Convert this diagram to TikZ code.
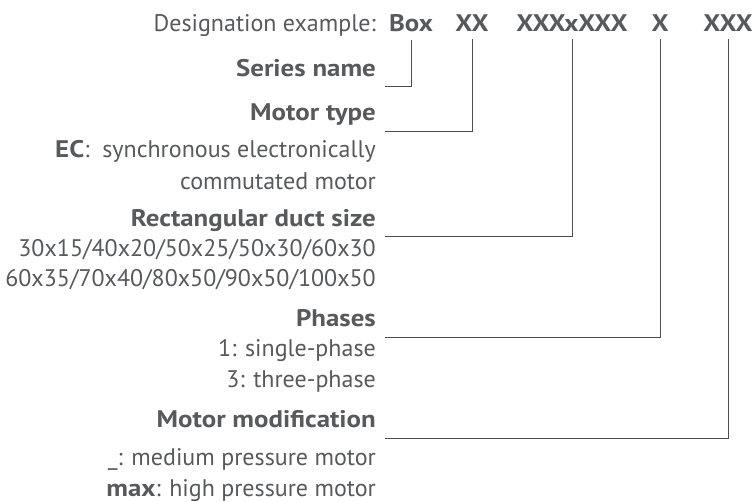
\documentclass[tikz,border=0pt]{standalone}
\usepackage{fontspec}
\setmainfont[BoldFeatures={FakeStretch=1.12}]{PT Sans}
\definecolor{txtgray}{HTML}{58595B}
\definecolor{linegray}{HTML}{4D4D4D}

\begin{document}
\begin{tikzpicture}[x=1pt,y=-1pt,
  every node/.style={text=txtgray,font=\fontsize{24}{28}\selectfont,inner sep=0pt},
  label/.style={anchor=base east},
  title/.style={anchor=base east,font=\fontsize{24}{28}\selectfont\bfseries},
  code/.style={anchor=base,font=\fontsize{24}{28}\selectfont\bfseries,inner ysep=7pt},
  leader/.style={draw=linegray,line width=0.9pt}]

\useasboundingbox (0,0) rectangle (755,502);

\coordinate (series) at (385,86);
\coordinate (motor) at (385,131);
\coordinate (duct) at (385,236);
\coordinate (phases) at (385,337);
\coordinate (modif) at (385,438);

\node [label] (head) at (376,32) {Designation example:};
\node [code] (box) at (411,32) {Box};
\node [code] (xx) at (472,32) {XX};
\node [code] (size) at (572,32) {XXXxXXX};
\node [code] (x) at (660,32) {X};
\node [code] (xxx) at (728,32) {XXX};

\draw [leader] (box.south) |- (series);
\draw [leader] (xx.south) |- (motor);
\draw [leader] (size.south) |- (duct);
\draw [leader] (x.south) |- (phases);
\draw [leader] (xxx.south) |- (modif);

\node [title] (sname) at (376,77) {Series name};
\node [title] (mtype) at (376,121) {Motor type};
\node [label] (ec1) at (376,158) {\textbf{EC}:\ \ synchronous electronically};
\node [label] (ec2) at (376,190) {commutated motor};
\node [title] (rdsize) at (376,227) {Rectangular duct size};
\node [label] (sizes1) at (376,257) {30x15/40x20/50x25/50x30/60x30};
\node [label] (sizes2) at (376,287) {60x35/70x40/80x50/90x50/100x50};
\node [title] (ph) at (376,327) {Phases};
\node [label] (ph1) at (376,357) {1: single-phase};
\node [label] (ph3) at (376,388) {3: three-phase};
\node [title] (mmod) at (376,428) {Motor modification};
\node [label] (mmed) at (376,465) {\_: medium pressure motor};
\node [label] (mmax) at (376,496) {\textbf{max}: high pressure motor};

\end{tikzpicture}
\end{document}
